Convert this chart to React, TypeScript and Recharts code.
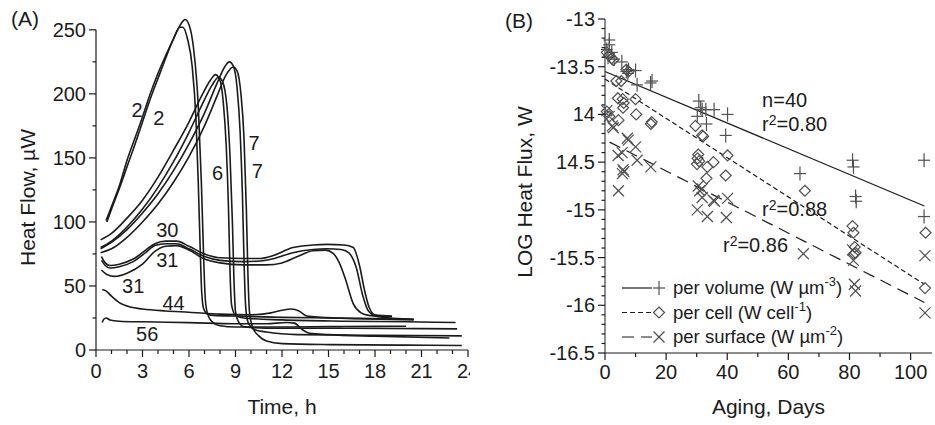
import React from 'react'
import {
	ComposedChart,
	Label,
	Legend,
	Line,
	LineChart,
	ReferenceDot,
	ReferenceLine,
	Scatter,
	XAxis,
	YAxis,
} from 'recharts'

const FONT = '"Liberation Sans", Arial, Helvetica, sans-serif'
const INK = '#1b1b1b'
const MARK = '#505050'

// ---------- panel A: heat flow curves (time h, heat flow µW) ----------
const curve2a = [
	[0.65, 101], [1, 112], [1.5, 128], [2, 148], [2.5, 165], [3, 182], [3.5, 200],
	[4, 216], [4.5, 230], [5, 243], [5.4, 252], [5.6, 252], [5.9, 243], [6.2, 222],
	[6.45, 180], [6.6, 130], [6.72, 80], [6.82, 45], [6.95, 32], [7.2, 28], [7.6, 27],
	[9, 26.5], [12, 25.5], [15, 25], [18, 24.5], [20.5, 24],
]
const curve2b = [
	[0.7, 100], [1, 110], [1.5, 126], [2, 143], [2.5, 160], [3, 178], [3.5, 196],
	[4, 212], [4.5, 228], [5, 243], [5.5, 255], [5.75, 258], [6, 254], [6.3, 235],
	[6.6, 190], [6.8, 130], [6.95, 70], [7.05, 40], [7.2, 28], [7.5, 22], [8, 19],
	[9, 18], [12, 18], [16, 18.3], [20, 18.5],
]
const curve6a = [
	[0.3, 86], [1, 91], [2, 103], [3, 117], [4, 135], [5, 156], [6, 178], [6.8, 198],
	[7.4, 211], [7.7, 215], [7.95, 212], [8.2, 195], [8.4, 160], [8.55, 110], [8.65, 60],
	[8.75, 35], [9, 27], [9.5, 25], [12, 23.5], [16, 22.5], [20, 22], [23.2, 21.5],
]
const curve6b = [
	[0.3, 80], [1, 85], [2, 96], [3, 110], [4, 127], [5, 147], [6, 170], [6.9, 193],
	[7.5, 207], [7.9, 213], [8.15, 210], [8.45, 190], [8.65, 150], [8.8, 100], [8.9, 55],
	[9, 30], [9.2, 22], [9.6, 18], [11, 17], [15, 17], [19, 16.8], [23.3, 16.5],
]
const curve7a = [
	[0.3, 79], [1, 84], [2, 94], [3, 107], [4, 122], [5, 140], [6, 161], [7, 185],
	[7.8, 208], [8.3, 221], [8.6, 225], [8.85, 222], [9.1, 205], [9.3, 170], [9.45, 120],
	[9.55, 70], [9.65, 35], [9.8, 22], [10.2, 16], [11, 14], [13, 12], [18, 11.5], [23.6, 11],
]
const curve7b = [
	[0.3, 76], [1, 79], [2, 88], [3, 100], [4, 114], [5, 131], [6, 151], [7, 175],
	[7.8, 198], [8.4, 215], [8.85, 221], [9.1, 218], [9.35, 200], [9.55, 165], [9.7, 110],
	[9.8, 60], [9.9, 30], [10.1, 18], [10.5, 11], [11, 7], [12, 5], [15, 4.2], [20, 3.8],
	[23.6, 3.5],
]
const curve30 = [
	[0.35, 73], [0.6, 68], [0.9, 66], [1.5, 67], [2.4, 71], [3.2, 78], [3.8, 83],
	[4.5, 85], [5.2, 85], [6, 81], [7, 75], [8, 72], [9.5, 71.5], [10.6, 71.5],
	[11.5, 74], [12.7, 80], [14, 82], [14.9, 82.5], [16, 82], [16.6, 80], [17, 66],
	[17.3, 48], [17.6, 34], [18, 27.5], [19.1, 26.5],
]
const curve31a = [
	[0.35, 70], [0.6, 66], [0.9, 64], [1.5, 65], [2.4, 69], [3.2, 76], [3.8, 81.5],
	[4.5, 83], [5.2, 83], [6, 79], [7, 73], [8, 70], [9.5, 69], [10.6, 69.5],
	[11.5, 71.5], [12.7, 76], [14, 78.5], [14.9, 79], [15.8, 78.5], [16.3, 76],
	[16.8, 64], [17.2, 43], [17.6, 30], [18.2, 26], [20.5, 24],
]
const curve31b = [
	[0.35, 62.5], [0.7, 59], [1.2, 57.5], [2, 60], [3, 67], [3.8, 77], [4.5, 81],
	[5.2, 81.5], [6, 78], [7, 71], [8, 68], [9.5, 66.5], [11, 66.5], [12, 68], [13, 73],
	[14, 77.5], [14.8, 78], [15.3, 75.5], [15.7, 68], [16.1, 55], [16.6, 36], [17.1, 29],
	[17.6, 27], [19.1, 26],
]
const curve44 = [
	[0.4, 47], [0.6, 46.5], [1, 42], [1.5, 37], [2.2, 33.5], [3, 32], [4.5, 30.5],
	[6, 29.5], [8, 28], [10, 27.5], [11.3, 29], [12, 31], [12.6, 32], [13.1, 30.5],
	[13.6, 26.5], [14.5, 25.5], [17, 24.5], [20.5, 23.5],
]
const curve56 = [
	[0.4, 21.5], [0.5, 24], [0.65, 25], [0.9, 23.5], [1.5, 22.5], [3, 22], [6, 21.4],
	[9, 20.5], [11, 20.5], [12.3, 21.5], [12.8, 21], [13.3, 16], [13.8, 13], [15, 12],
	[18, 10.8], [22.8, 9.4],
]
const heatCurves = [
	curve2a, curve2b, curve6a, curve6b, curve7a, curve7b,
	curve30, curve31a, curve31b, curve44, curve56,
]

// curve tags: [time, heat flow, text]
const curveTags: [number, number, string][] = [
	[2.65, 187, '2'], [4.05, 181, '2'], [7.85, 138, '6'], [10.2, 162, '7'],
	[10.4, 140, '7'], [4.6, 94, '30'], [4.6, 70, '31'], [2.4, 50, '31'],
	[5, 37, '44'], [3.3, 12.5, '56'],
]

const timeTicks = Array.from({ length: 25 }, (_, i) => i)
const heatTicks = Array.from({ length: 11 }, (_, i) => i * 25)

// ---------- panel B: log heat flux vs aging days ----------
const perVolume = [
	[0.6, -13.32], [1.4, -13.22], [1.4, -13.27], [2.2, -13.35], [1, -13.4], [3, -13.42],
	[5.5, -13.45], [7.7, -13.53], [7, -13.55], [7.5, -13.57], [10, -13.54], [10.5, -13.69],
	[14.9, -13.67], [15.4, -13.65], [30.7, -13.86], [30.2, -14.02], [31.3, -13.93],
	[31.8, -13.95], [33, -13.95], [33.2, -14.1], [35.7, -13.95], [40.1, -14], [39.5, -14.22],
	[63.8, -14.62], [81, -14.48], [81.3, -14.55], [82, -14.86], [82.2, -14.91],
	[104.4, -14.48], [104.4, -15.07],
]
const perCell = [
	[0.6, -13.35], [1.4, -13.38], [2.2, -13.41], [2.7, -13.43], [7, -13.53], [7.7, -13.55],
	[3.7, -13.65], [5.3, -13.65], [4.2, -13.83], [5.8, -13.84], [6.1, -13.88], [5.9, -13.93],
	[0.6, -13.97], [1.4, -14.02], [4.4, -14.06], [10, -13.84], [10.2, -14], [15, -14.1],
	[15.3, -14.08], [29.6, -14.12], [31.8, -14.22], [32.1, -14.23], [30.5, -14.42],
	[30.3, -14.46], [30.8, -14.49], [30.1, -14.52], [33.5, -14.55], [35.5, -14.5],
	[33.2, -14.67], [40.1, -14.43], [39.5, -14.64], [65.4, -14.8], [81, -15.17],
	[81.3, -15.24], [81.7, -15.39], [82, -15.45], [81.5, -15.46], [104.9, -15.24],
	[104.7, -15.82],
]
const perSurface = [
	[0.6, -13.96], [1.4, -14.02], [2.7, -14.14], [2.4, -14.12], [7.3, -14.25], [7.6, -14.27],
	[10, -14.34], [4.3, -14.43], [5.6, -14.4], [5.9, -14.58], [6.2, -14.6], [5.7, -14.62],
	[4.4, -14.8], [10.5, -14.48], [15, -14.55], [30.5, -14.75], [31, -14.8], [31.8, -14.78],
	[31.8, -14.87], [30.2, -15], [33.5, -15.07], [35.5, -14.9], [35.8, -14.91], [40.1, -14.88],
	[39.7, -15.08], [64.9, -15.46], [81, -15.42], [81.3, -15.53], [81.6, -15.78], [82, -15.85],
	[104.7, -15.48], [104.7, -16.08],
]
const volumeFit = [[0, -13.55], [104.5, -14.96]]
const cellFit = [[0, -13.63], [104.5, -15.78]]
const surfaceFit = [[1.5, -14.29], [104.5, -15.97]]

// notes: [day, log flux, text, r² superscript?]
const fluxNotes: [number, number, string, boolean][] = [
	[51.4, -13.85, 'n=40', false],
	[51.4, -14.1, '=0.80', true],
	[51.4, -14.99, '=0.88', true],
	[38.6, -15.37, '=0.86', true],
]

const dayTicks = Array.from({ length: 11 }, (_, i) => i * 10)
const fluxTicks = Array.from({ length: 36 }, (_, i) => Math.round((-16.5 + i * 0.1) * 10) / 10)
const fluxMajor = [-13, -13.5, -14, -14.5, -15, -15.5, -16, -16.5]
const fluxMajorLabels = ['-13', '-13.5', '14', '14.5', '-15', '-15.5', '-16', '-16.5']

const toTV = (rows: number[][]) => rows.map(([t, v]) => ({ t, v }))
const toDV = (rows: number[][]) => rows.map(([day, v]) => ({ day, v }))

const CELL_DASH = '5 3'
const SURF_DASH = '12 7'

// ---------- ticks ----------
const bottomTick = (isMajor: (v: number) => boolean, gap: number) => (props: any) => {
	const { x, y, payload } = props
	const major = isMajor(payload.value)
	return (
		<g>
			<line x1={x} x2={x} y1={y} y2={y + (major ? 7 : 4)} stroke={INK} strokeWidth={1.2} />
			{major && (
				<text x={x} y={y + gap} textAnchor="middle" fontSize={20} fontFamily={FONT} fill={INK}>
					{payload.value}
				</text>
			)}
		</g>
	)
}

const leftTick = (isMajor: (v: number) => boolean, fmt: (v: number) => string) => (props: any) => {
	const { x, y, payload } = props
	const major = isMajor(payload.value)
	return (
		<g>
			<line x1={x} x2={x - (major ? 7 : 3.5)} y1={y} y2={y} stroke={INK} strokeWidth={1.2} />
			{major && (
				<text x={x - 10} y={y} dy="0.35em" textAnchor="end" fontSize={20} fontFamily={FONT} fill={INK}>
					{fmt(payload.value)}
				</text>
			)}
		</g>
	)
}

const xTitle = (text: string, off: number) => (p: any) => {
	const vb = p.viewBox
	return (
		<text x={vb.x + vb.width / 2} y={vb.y + off} textAnchor="middle" fontSize={21} fontFamily={FONT} fill={INK}>
			{text}
		</text>
	)
}

const yTitle = (text: string, cxOff: number, cyOff: number) => (p: any) => {
	const vb = p.viewBox
	const cx = vb.x + cxOff
	const cy = vb.y + vb.height / 2 + cyOff
	return (
		<text
			x={cx}
			y={cy}
			transform={`rotate(-90, ${cx}, ${cy})`}
			textAnchor="middle"
			dominantBaseline="central"
			fontSize={21}
			fontFamily={FONT}
			fill={INK}
		>
			{text}
		</text>
	)
}

// ---------- markers ----------
const PlusMark = ({ cx, cy }: any) => (
	<g stroke={MARK} strokeWidth={1.2}>
		<line x1={cx - 6} x2={cx + 6} y1={cy} y2={cy} />
		<line x1={cx} x2={cx} y1={cy - 7} y2={cy + 7} />
	</g>
)
const DiamondMark = ({ cx, cy }: any) => (
	<polygon
		points={`${cx},${cy - 5.5} ${cx + 5.5},${cy} ${cx},${cy + 5.5} ${cx - 5.5},${cy}`}
		fill="none"
		stroke={MARK}
		strokeWidth={1.2}
	/>
)
const CrossMark = ({ cx, cy }: any) => (
	<g stroke={MARK} strokeWidth={1.2}>
		<line x1={cx - 5.5} x2={cx + 5.5} y1={cy - 5.5} y2={cy + 5.5} />
		<line x1={cx - 5.5} x2={cx + 5.5} y1={cy + 5.5} y2={cy - 5.5} />
	</g>
)

const legendRows = [
	{ dash: undefined, Mark: PlusMark, text: 'per volume (W µm', sup: '-3' },
	{ dash: CELL_DASH, Mark: DiamondMark, text: 'per cell (W cell', sup: '-1' },
	{ dash: SURF_DASH, Mark: CrossMark, text: 'per surface (W µm', sup: '-2' },
]

const FluxLegend = () => (
	<svg width={300} height={86} style={{ display: 'block', overflow: 'visible' }}>
		{legendRows.map((r, i) => {
			const y = 20 + i * 24.5
			return (
				<g key={i}>
					<line x1={2} x2={32} y1={y} y2={y} stroke={INK} strokeWidth={1.2} strokeDasharray={r.dash} />
					<r.Mark cx={39} cy={y} />
					<text x={53} y={y} dy="0.35em" fontSize={18.5} fontFamily={FONT} fill={INK}>
						{r.text}
						<tspan dy={-8} fontSize={13}>{r.sup}</tspan>
						<tspan dy={8}>)</tspan>
					</text>
				</g>
			)
		})}
	</svg>
)

const App = () => {
	return (
		<div style={{ position: 'absolute', left: 0, top: 0, width: 935, height: 425, background: '#fff' }}>
			<div style={{ position: 'absolute', left: 0, top: 0 }}>
				<LineChart width={470} height={425} margin={{ top: 17, right: 2, bottom: 0, left: 0 }}>
					<XAxis
						type="number"
						dataKey="t"
						domain={[0, 24]}
						ticks={timeTicks}
						interval={0}
						tickSize={0}
						tickMargin={0}
						tickLine={false}
						tick={bottomTick((v) => v % 3 === 0, 28)}
						height={75}
						stroke={INK}
						allowDuplicatedCategory={false}
					>
						<Label content={xTitle('Time, h', 64)} />
					</XAxis>
					<YAxis
						type="number"
						domain={[0, 260]}
						ticks={heatTicks}
						interval={0}
						tickSize={0}
						tickMargin={0}
						tickLine={false}
						axisLine={false}
						tick={leftTick((v) => v % 50 === 0, (v) => String(v))}
						width={96}
					>
						<Label content={yTitle('Heat Flow, µW', 27, 14)} />
					</YAxis>
					<ReferenceLine segment={[{ x: 0, y: 0 }, { x: 0, y: 250 }]} stroke={INK} strokeWidth={1.2} />
					{heatCurves.map((c, i) => (
						<Line
							key={i}
							data={toTV(c)}
							dataKey="v"
							type="monotone"
							dot={false}
							stroke={INK}
							strokeWidth={1.6}
							isAnimationActive={false}
						/>
					))}
					{curveTags.map(([t, v, text], i) => (
						<ReferenceDot
							key={i}
							x={t}
							y={v}
							r={0}
							shape={(p: any) => (
								<text x={p.cx} y={p.cy} dy="0.35em" textAnchor="middle" fontSize={20} fontFamily={FONT} fill={INK}>
									{text}
								</text>
							)}
						/>
					))}
				</LineChart>
			</div>
			<div style={{ position: 'absolute', left: 470, top: 0 }}>
				<ComposedChart width={465} height={425} margin={{ top: 19, right: 3, bottom: 0, left: 0 }}>
					<XAxis
						type="number"
						dataKey="day"
						domain={[0, 107]}
						ticks={dayTicks}
						interval={0}
						tickSize={0}
						tickMargin={0}
						tickLine={false}
						tick={bottomTick((v) => v % 20 === 0, 26)}
						height={72}
						stroke={INK}
						allowDuplicatedCategory={false}
					>
						<Label content={xTitle('Aging, Days', 61)} />
					</XAxis>
					<YAxis
						type="number"
						dataKey="v"
						domain={[-16.5, -13]}
						ticks={fluxTicks}
						interval={0}
						tickSize={0}
						tickMargin={0}
						tickLine={false}
						tick={leftTick(
							(v) => fluxMajor.some((m) => Math.abs(m - v) < 1e-6),
							(v) => fluxMajorLabels[fluxMajor.findIndex((m) => Math.abs(m - v) < 1e-6)],
						)}
						width={135}
						stroke={INK}
					>
						<Label content={yTitle('LOG Heat Flux, W', 54, 6)} />
					</YAxis>
					<Line data={toDV(volumeFit)} dataKey="v" type="linear" dot={false} stroke={INK} strokeWidth={1.2} isAnimationActive={false} />
					<Line data={toDV(cellFit)} dataKey="v" type="linear" dot={false} stroke={INK} strokeWidth={1.2} strokeDasharray={CELL_DASH} isAnimationActive={false} />
					<Line data={toDV(surfaceFit)} dataKey="v" type="linear" dot={false} stroke={INK} strokeWidth={1.2} strokeDasharray={SURF_DASH} isAnimationActive={false} />
					<Scatter data={toDV(perVolume)} dataKey="v" shape={PlusMark} isAnimationActive={false} />
					<Scatter data={toDV(perCell)} dataKey="v" shape={DiamondMark} isAnimationActive={false} />
					<Scatter data={toDV(perSurface)} dataKey="v" shape={CrossMark} isAnimationActive={false} />
					{fluxNotes.map(([day, v, text, r2], i) => (
						<ReferenceDot
							key={i}
							x={day}
							y={v}
							r={0}
							shape={(p: any) => (
								<text x={p.cx} y={p.cy} dy="0.35em" fontSize={20} fontFamily={FONT} fill={INK}>
									{r2 ? 'r' : ''}
									{r2 && <tspan dy={-6} fontSize={14}>2</tspan>}
									{r2 ? <tspan dy={6}>{text}</tspan> : text}
								</text>
							)}
						/>
					))}
					<Legend
						layout="vertical"
						align="center"
						verticalAlign="middle"
						wrapperStyle={{ left: 150, top: 268, width: 300 }}
						content={() => <FluxLegend />}
					/>
				</ComposedChart>
			</div>
			<div style={{ position: 'absolute', left: 11, top: 7, fontSize: 21, fontFamily: FONT, color: INK }}>(A)</div>
			<div style={{ position: 'absolute', left: 505, top: 9, fontSize: 21, fontFamily: FONT, color: INK }}>(B)</div>
		</div>
	)
}

export default App
